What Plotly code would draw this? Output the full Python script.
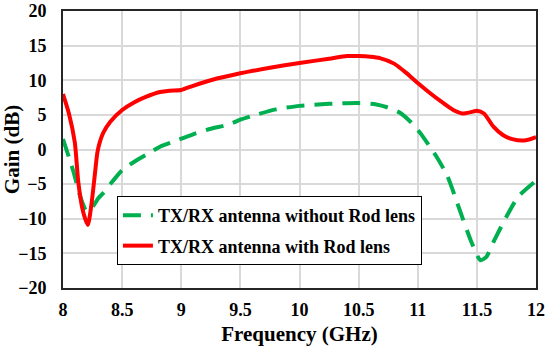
import plotly.graph_objects as go

freq_with = [8.0, 8.05, 8.1, 8.13, 8.17, 8.21, 8.24, 8.27, 8.29, 8.31, 8.34, 8.4, 8.5, 8.6, 8.7, 8.82,
             8.9, 9.0, 9.1, 9.25, 9.5, 9.75, 10.0, 10.25, 10.4, 10.5, 10.6, 10.68, 10.8, 10.9, 11.0, 11.1,
             11.2, 11.3, 11.38, 11.45, 11.5, 11.56, 11.64, 11.72, 11.8, 11.9, 12.0]
gain_with = [8.0, 5.2, 1.0, -4.8, -9.0, -10.9, -8.0, -3.5, -0.5, 1.0, 2.4, 4.0, 5.7, 6.8, 7.6, 8.3,
             8.5, 8.6, 9.2, 10.0, 11.0, 11.8, 12.5, 13.1, 13.5, 13.5, 13.4, 13.2, 12.4, 11.1, 9.6, 8.2,
             6.9, 5.7, 5.2, 5.4, 5.6, 5.2, 3.3, 2.1, 1.5, 1.3, 1.8]

freq_without = [8.0, 8.085, 8.15, 8.2, 8.25, 8.3, 8.34, 8.4, 8.5, 8.6, 8.74, 8.82, 8.93, 9.1, 9.25,
                9.4, 9.5, 9.65, 9.8, 10.0, 10.25, 10.5, 10.65, 10.74, 10.85, 10.95, 11.02, 11.15,
                11.25, 11.35, 11.45, 11.53, 11.58, 11.65, 11.75, 11.85, 12.0]
gain_without = [1.5, -3.0, -7.0, -8.9, -8.3, -7.0, -6.3, -5.0, -3.0, -1.8, -0.4, 0.4, 1.1, 2.2, 3.0,
                3.6, 4.3, 5.1, 5.8, 6.3, 6.6, 6.7, 6.5, 6.1, 5.3, 3.8, 2.4, -0.8,
                -3.8, -8.5, -13.2, -16.0, -15.5, -13.0, -9.7, -6.8, -4.5]

x_ticks = [8, 8.5, 9, 9.5, 10, 10.5, 11, 11.5, 12]
x_tick_labels = ["8", "8.5", "9", "9.5", "10", "10.5", "11", "11.5", "12"]
y_ticks = [-20, -15, -10, -5, 0, 5, 10, 15, 20]

font_family = "Liberation Serif"

fig = go.Figure()
fig.add_trace(go.Scatter(
    x=freq_without, y=gain_without, mode="lines",
    name="TX/RX antenna without Rod lens", legendgroup="a",
    line=dict(color="#00B050", width=4, dash="18px,10px", shape="spline", smoothing=0.6),
))
fig.add_trace(go.Scatter(
    x=freq_with, y=gain_with, mode="lines",
    name="TX/RX antenna with Rod lens", legendgroup="b",
    line=dict(color="#FF0000", width=4, shape="spline", smoothing=0.6),
))

fig.update_layout(
    width=550, height=351,
    margin=dict(l=63, r=14, t=11, b=63),
    paper_bgcolor="white", plot_bgcolor="white",
    font=dict(family=font_family, color="black", size=18),
    showlegend=True,
    legend=dict(
        x=0.114, y=0.332, xanchor="left", yanchor="top",
        bgcolor="white", bordercolor="black", borderwidth=1,
        font=dict(family=font_family, size=18, color="black", weight="bold"),
        traceorder="grouped", tracegroupgap=4,
    ),
)
fig.update_xaxes(
    range=[8, 12], tickvals=x_ticks, ticktext=x_tick_labels,
    showgrid=True, gridcolor="#d9d9d9", gridwidth=1.5,
    showline=True, linecolor="#262626", linewidth=2, mirror=True,
    ticks="outside", ticklen=4, tickcolor="rgba(0,0,0,0)",
    tickfont=dict(family=font_family, size=18, weight="bold"),
    title=dict(text="<b>Frequency (GHz)</b>", font=dict(family=font_family, size=21), standoff=8),
    zeroline=False, automargin=False,
)
fig.update_yaxes(
    range=[-20, 20], tickvals=y_ticks,
    showgrid=True, gridcolor="#d9d9d9", gridwidth=1.5,
    showline=True, linecolor="#262626", linewidth=2, mirror=True,
    ticks="outside", ticklen=11, tickcolor="rgba(0,0,0,0)",
    tickfont=dict(family=font_family, size=18, weight="bold"),
    title=dict(text="<b>Gain (dB)</b>", font=dict(family=font_family, size=21), standoff=3),
    zeroline=False, automargin=False,
)

fig.write_html(
    "out.html",
    config={"displayModeBar": False},
    post_script="document.body.style.margin='0';document.body.style.overflow='hidden';",
)
